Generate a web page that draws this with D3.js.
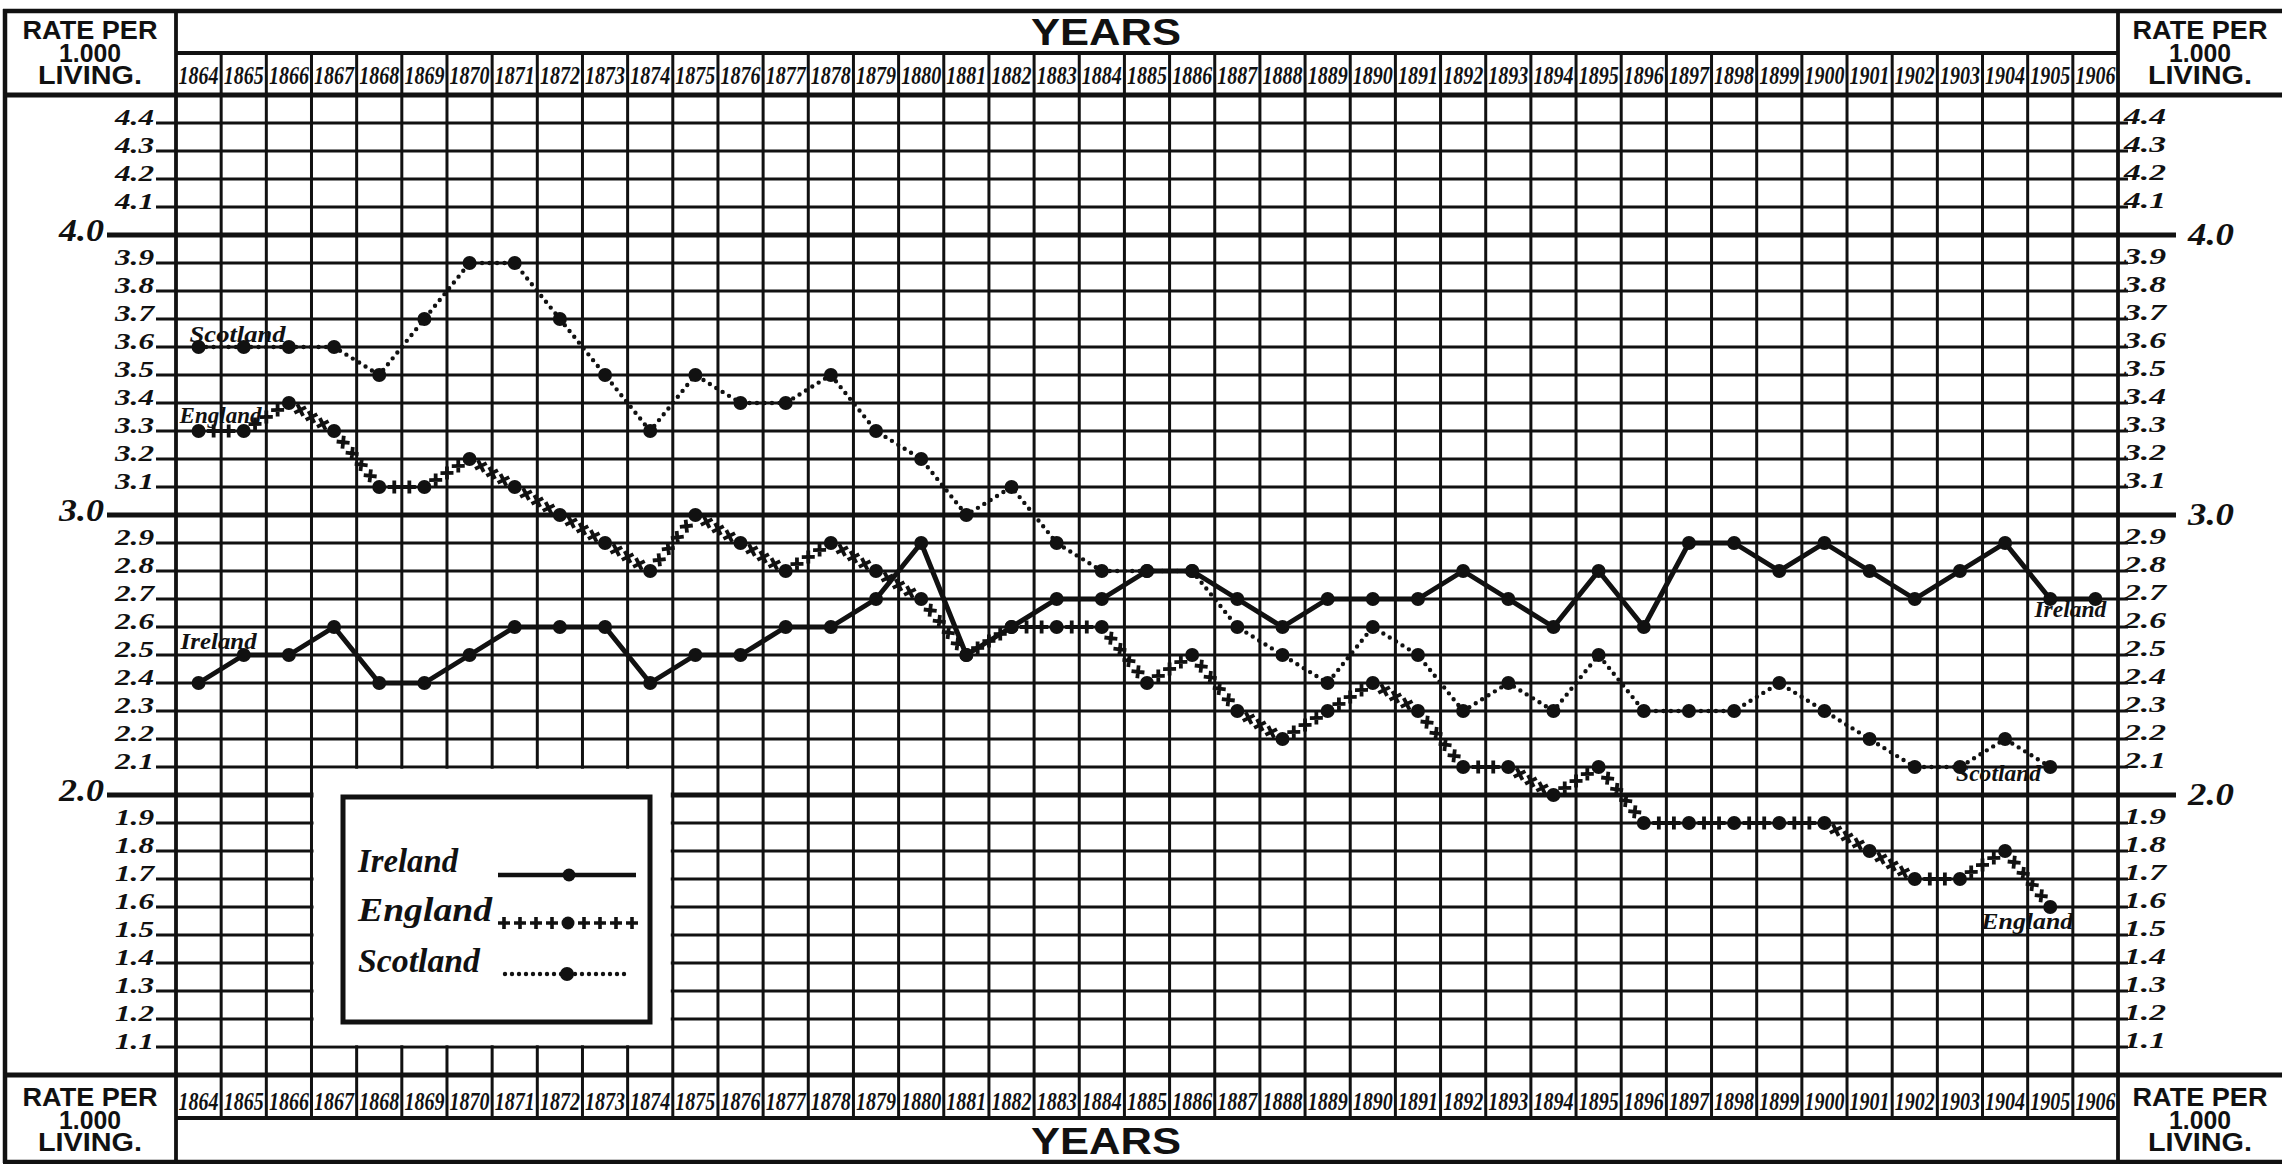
<!DOCTYPE html>
<html>
<head>
<meta charset="utf-8">
<script src="https://cdnjs.cloudflare.com/ajax/libs/d3/7.8.5/d3.min.js"></script>
<style>
  html, body { margin: 0; padding: 0; background: #fff; }
  svg { display: block; }
  .serif { font-family: 'Liberation Serif', 'DejaVu Serif', serif; font-weight: bold; font-style: italic; }
  .sans { font-family: 'Liberation Sans', 'DejaVu Sans', sans-serif; font-weight: bold; }
</style>
</head>
<body>
<div id="chart"></div>
<script>
// rate per 1000 living
var years = [1864,1865,1866,1867,1868,1869,1870,1871,1872,1873,1874,1875,1876,1877,1878,1879,1880,
             1881,1882,1883,1884,1885,1886,1887,1888,1889,1890,1891,1892,1893,1894,1895,1896,1897,
             1898,1899,1900,1901,1902,1903,1904,1905,1906];

var ireland  = [2.4,2.5,2.5,2.6,2.4,2.4,2.5,2.6,2.6,2.6,2.4,2.5,2.5,2.6,2.6,2.7,2.9,2.5,2.6,2.7,2.7,2.8,
                2.8,2.7,2.6,2.7,2.7,2.7,2.8,2.7,2.6,2.8,2.6,2.9,2.9,2.8,2.9,2.8,2.7,2.8,2.9,2.7,2.7];
var england  = [3.3,3.3,3.4,3.3,3.1,3.1,3.2,3.1,3.0,2.9,2.8,3.0,2.9,2.8,2.9,2.8,2.7,2.5,2.6,2.6,2.6,2.4,
                2.5,2.3,2.2,2.3,2.4,2.3,2.1,2.1,2.0,2.1,1.9,1.9,1.9,1.9,1.9,1.8,1.7,1.7,1.8,1.6];
var scotland = [3.6,3.6,3.6,3.6,3.5,3.7,3.9,3.9,3.7,3.5,3.3,3.5,3.4,3.4,3.5,3.3,3.2,3.0,3.1,2.9,2.8,2.8,
                2.8,2.6,2.5,2.4,2.6,2.5,2.3,2.4,2.3,2.5,2.3,2.3,2.3,2.4,2.3,2.2,2.1,2.1,2.2,2.1];

var seriesNames = ["Ireland", "England", "Scotland"];
var minorTicks = [1.1,1.2,1.3,1.4,1.5,1.6,1.7,1.8,1.9,2.1,2.2,2.3,2.4,2.5,2.6,2.7,2.8,2.9,
                  3.1,3.2,3.3,3.4,3.5,3.6,3.7,3.8,3.9,4.1,4.2,4.3,4.4];
var majorTicks = [2.0, 3.0, 4.0];
var boxLines = ["RATE PER", "1.000", "LIVING."];
var axisTitle = "YEARS";

var W = 2282, H = 1164;
var ink = "#111";
var plotLeft = 176, plotRight = 2118, plotTop = 95, plotBottom = 1075;

var svg = d3.select('#chart').append('svg')
    .attr('width', W)
    .attr('height', H);

svg.append('rect').attr('width', W).attr('height', H).attr('fill', '#fff');

var x = d3.scaleBand().domain(years).range([plotLeft, plotRight]);
var y = d3.scaleLinear().domain([1.0, 4.5]).range([plotBottom, plotTop]);
function cx(yr) { return x(yr) + x.bandwidth() / 2; }

var fmt = d3.format('.1f');

// ---- grid ----
var grid = svg.append('g').attr('stroke', ink).attr('fill', 'none');

grid.selectAll('.vline')
    .data(years.slice(1))
  .enter().append('line')
    .attr('x1', function(d) { return x(d); })
    .attr('x2', function(d) { return x(d); })
    .attr('y1', 53).attr('y2', 1118)
    .attr('stroke-width', 3);

grid.selectAll('.minor')
    .data(minorTicks)
  .enter().append('line')
    .attr('x1', 156).attr('x2', 2128)
    .attr('y1', function(d) { return y(d); })
    .attr('y2', function(d) { return y(d); })
    .attr('stroke-width', 3);

grid.selectAll('.major')
    .data(majorTicks)
  .enter().append('line')
    .attr('x1', 107).attr('x2', 2176)
    .attr('y1', function(d) { return y(d); })
    .attr('y2', function(d) { return y(d); })
    .attr('stroke-width', 5);

// frame
var frame = [
  [3, 11, W, 11, 4.5], [5, 9, 5, H - 1, 4.5], [3, 1162, W, 1162, 4.5],
  [plotLeft, 9, plotLeft, 1164, 3.8], [plotRight, 9, plotRight, 1164, 3.8],
  [plotLeft, 53, plotRight, 53, 4], [3, plotTop, W, plotTop, 4.8],
  [3, plotBottom, W, plotBottom, 4.8], [plotLeft, 1118, plotRight, 1118, 4]
];
grid.selectAll('.frame')
    .data(frame)
  .enter().append('line')
    .attr('x1', function(d) { return d[0]; })
    .attr('y1', function(d) { return d[1]; })
    .attr('x2', function(d) { return d[2]; })
    .attr('y2', function(d) { return d[3]; })
    .attr('stroke-width', function(d) { return d[4]; });

// ---- axis labels ----
var lab = svg.append('g').attr('fill', ink);

lab.selectAll('.lminor')
    .data(minorTicks)
  .enter().append('text')
    .attr('class', 'serif')
    .attr('x', 154).attr('y', function(d) { return y(d) + 2; })
    .attr('text-anchor', 'end')
    .attr('font-size', 24)
    .attr('textLength', 39).attr('lengthAdjust', 'spacingAndGlyphs')
    .text(fmt);

lab.selectAll('.rminor')
    .data(minorTicks)
  .enter().append('text')
    .attr('class', 'serif')
    .attr('x', 2124).attr('y', function(d) { return y(d) + 1; })
    .attr('font-size', 24)
    .attr('textLength', 42).attr('lengthAdjust', 'spacingAndGlyphs')
    .text(fmt);

lab.selectAll('.lmajor')
    .data(majorTicks)
  .enter().append('text')
    .attr('class', 'serif')
    .attr('x', 104).attr('y', function(d) { return y(d) + 6; })
    .attr('text-anchor', 'end')
    .attr('font-size', 32)
    .attr('textLength', 45).attr('lengthAdjust', 'spacingAndGlyphs')
    .text(fmt);

lab.selectAll('.rmajor')
    .data(majorTicks)
  .enter().append('text')
    .attr('class', 'serif')
    .attr('x', 2188).attr('y', function(d) { return y(d) + 10; })
    .attr('font-size', 32)
    .attr('textLength', 46).attr('lengthAdjust', 'spacingAndGlyphs')
    .text(fmt);

[84, 1110].forEach(function(base) {
  lab.selectAll(null)
      .data(years)
    .enter().append('text')
      .attr('class', 'serif')
      .attr('x', cx).attr('y', base)
      .attr('text-anchor', 'middle')
      .attr('font-size', 25)
      .attr('textLength', 40).attr('lengthAdjust', 'spacingAndGlyphs')
      .text(function(d) { return d; });
});

[45, 1154].forEach(function(base) {
  lab.append('text')
      .attr('class', 'sans')
      .attr('x', 1106).attr('y', base)
      .attr('text-anchor', 'middle')
      .attr('font-size', 36)
      .attr('textLength', 150).attr('lengthAdjust', 'spacingAndGlyphs')
      .text(axisTitle);
});

var boxWidths = [135, 62, 104];
[[90, 39], [2200, 39], [90, 1106], [2200, 1106]].forEach(function(b) {
  lab.selectAll(null)
      .data(boxLines)
    .enter().append('text')
      .attr('class', 'sans')
      .attr('x', b[0])
      .attr('y', function(d, i) { return b[1] + i * 22.5; })
      .attr('text-anchor', 'middle')
      .attr('font-size', 26)
      .attr('textLength', function(d, i) { return boxWidths[i]; })
      .attr('lengthAdjust', 'spacingAndGlyphs')
      .text(function(d) { return d; });
});

// ---- legend ----
svg.append('rect')
    .attr('x', x(1867) + 2)
    .attr('y', y(2.1) + 1.8)
    .attr('width', x(1875) - x(1867) - 4)
    .attr('height', y(1.1) - y(2.1) - 3.6)
    .attr('fill', '#fff');

var legend = svg.append('g');
legend.append('rect')
    .attr('x', 343).attr('y', 797)
    .attr('width', 307).attr('height', 225)
    .attr('fill', 'none').attr('stroke', ink).attr('stroke-width', 5);

var legendRows = [872, 921, 972];
var legendLen = [100, 134, 122];
legend.selectAll('.ltext')
    .data(seriesNames)
  .enter().append('text')
    .attr('class', 'serif')
    .attr('x', 358)
    .attr('y', function(d, i) { return legendRows[i]; })
    .attr('font-size', 33)
    .attr('fill', ink)
    .attr('textLength', function(d, i) { return legendLen[i]; })
    .attr('lengthAdjust', 'spacingAndGlyphs')
    .text(function(d) { return d; });

// ---- series ----
function points(vals) {
  return vals.map(function(v, i) { return { year: years[i], v: v }; });
}
var line = d3.line()
    .x(function(d) { return cx(d.year); })
    .y(function(d) { return y(d.v); });

var plot = svg.append('g');

// Ireland: solid line
plot.append('path')
    .datum(points(ireland))
    .attr('d', line)
    .attr('fill', 'none').attr('stroke', ink)
    .attr('stroke-width', 5).attr('stroke-linejoin', 'round');

// Scotland: dotted line
plot.append('path')
    .datum(points(scotland))
    .attr('d', line)
    .attr('fill', 'none').attr('stroke', ink)
    .attr('stroke-width', 4.4).attr('stroke-linecap', 'round')
    .attr('stroke-dasharray', '0,7.5');

// England: chain of crosses between the yearly dots
var eng = points(england);
var crosses = [];
for (var i = 0; i < eng.length - 1; i++) {
  var ax = cx(eng[i].year), ay = y(eng[i].v);
  var bx = cx(eng[i + 1].year), by = y(eng[i + 1].v);
  var dx = bx - ax, dy = by - ay;
  var n = Math.max(1, Math.round(Math.hypot(dx, dy) / 14)) - 1;
  var ang = Math.atan2(dy, dx) * 180 / Math.PI;
  for (var k = 1; k <= n; k++) {
    crosses.push({ x: ax + dx * k / (n + 1), y: ay + dy * k / (n + 1), a: ang + 45 * Math.min(1, Math.abs(dy) / 40) });
  }
}
plot.selectAll('.cross')
    .data(crosses)
  .enter().append('path')
    .attr('d', 'M-6.5,0H6.5M0,-6.5V6.5')
    .attr('transform', function(d) { return 'translate(' + d.x + ',' + d.y + ') rotate(' + d.a + ')'; })
    .attr('stroke', ink).attr('stroke-width', 3.8);

[ireland, england, scotland].forEach(function(vals) {
  plot.selectAll(null)
      .data(points(vals))
    .enter().append('circle')
      .attr('cx', function(d) { return cx(d.year); })
      .attr('cy', function(d) { return y(d.v); })
      .attr('r', 7)
      .attr('fill', ink);
});

// legend samples
legend.append('line')
    .attr('x1', 498).attr('x2', 636).attr('y1', 875).attr('y2', 875)
    .attr('stroke', ink).attr('stroke-width', 4.5);
legend.append('circle').attr('cx', 569).attr('cy', 875).attr('r', 6.5).attr('fill', ink);

legend.selectAll('.lplus')
    .data(d3.range(9).filter(function(k) { return k !== 4; }))
  .enter().append('path')
    .attr('d', 'M-6,0H6M0,-6V6')
    .attr('transform', function(k) { return 'translate(' + (504 + k * 16) + ',923)'; })
    .attr('stroke', ink).attr('stroke-width', 3.6);
legend.append('circle').attr('cx', 568).attr('cy', 923).attr('r', 6.5).attr('fill', ink);

legend.append('line')
    .attr('x1', 505).attr('x2', 629).attr('y1', 974).attr('y2', 974)
    .attr('stroke', ink).attr('stroke-width', 4.4).attr('stroke-linecap', 'round')
    .attr('stroke-dasharray', '0,7');
legend.append('circle').attr('cx', 567).attr('cy', 974).attr('r', 7).attr('fill', ink);

// series names written on the chart
var tags = [
  { name: "Scotland", year: 1864, v: scotland[0], dx: -9,  dy: -5,  len: 96, anchor: 'start' },
  { name: "England",  year: 1864, v: england[0],  dx: -19, dy: -8,  len: 82, anchor: 'start' },
  { name: "Ireland",  year: 1864, v: 2.5,         dx: -18, dy: -6,  len: 76, anchor: 'start' },
  { name: "Ireland",  year: 1906, v: ireland[42], dx: 11,  dy: 18,  len: 72, anchor: 'end' },
  { name: "Scotland", year: 1904, v: scotland[41], dx: 36, dy: 14,  len: 85, anchor: 'end' },
  { name: "England",  year: 1905, v: england[41], dx: 23,  dy: 22,  len: 92, anchor: 'end' }
];
plot.selectAll('.tag')
    .data(tags)
  .enter().append('text')
    .attr('class', 'serif')
    .attr('x', function(d) { return cx(d.year) + d.dx; })
    .attr('y', function(d) { return y(d.v) + d.dy; })
    .attr('text-anchor', function(d) { return d.anchor; })
    .attr('font-size', 23)
    .attr('fill', ink)
    .attr('textLength', function(d) { return d.len; })
    .attr('lengthAdjust', 'spacingAndGlyphs')
    .text(function(d) { return d.name; });
</script>
</body>
</html>
